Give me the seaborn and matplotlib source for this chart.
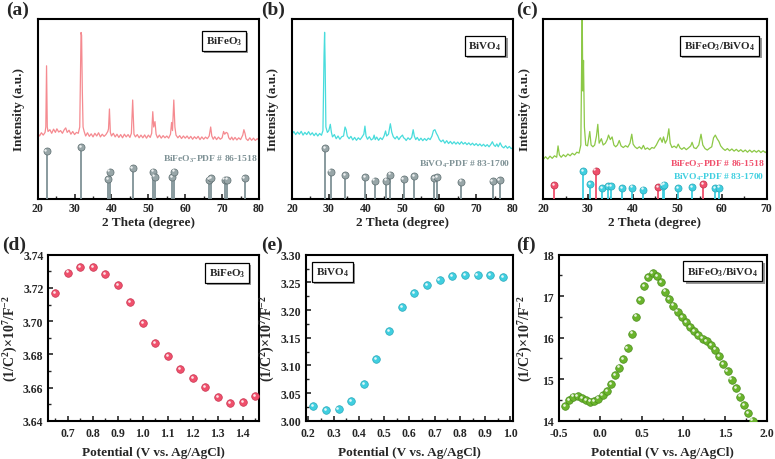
import numpy as np
import matplotlib
matplotlib.use('Agg')
import matplotlib.pyplot as plt
import matplotlib.patheffects as pe
from matplotlib import transforms
from matplotlib.ticker import AutoMinorLocator, MultipleLocator, FormatStrFormatter
import seaborn as sns

# ---- XRD data (a.u.) ----
a_2theta = [20.0, 20.5, 21.0, 21.5, 22.0, 22.2, 22.4, 22.6, 22.8, 23.3, 23.8, 24.3, 24.8, 25.2, 25.7,
            26.2, 26.7, 27.2, 27.6, 28.0, 28.5, 29.0, 29.5, 30.0, 30.5, 31.0, 31.4, 31.6, 31.75, 31.9,
            32.1, 32.3, 32.6, 33.0, 33.5, 34.0, 34.5, 35.0, 35.5, 36.0, 36.5, 37.0, 37.5, 38.0, 38.5,
            39.0, 39.2, 39.45, 39.7, 40.0, 40.5, 41.0, 41.5, 42.0, 42.5, 43.0, 43.5, 44.0, 44.5, 45.0,
            45.4, 45.75, 46.1, 46.5, 47.0, 47.5, 48.0, 48.5, 49.0, 49.5, 50.0, 50.5, 50.9, 51.2, 51.45,
            51.8, 52.1, 52.5, 53.0, 53.5, 54.0, 54.5, 55.0, 55.5, 56.0, 56.3, 56.55, 56.9, 57.2, 57.5,
            58.0, 58.5, 59.0, 59.5, 60.0, 60.5, 61.0, 61.5, 62.0, 62.5, 63.0, 63.5, 64.0, 64.5, 65.0,
            65.5, 66.0, 66.5, 66.9, 67.2, 67.6, 68.0, 68.5, 69.0, 69.5, 70.0, 70.4, 70.7, 71.1, 71.5,
            71.8, 72.2, 72.6, 73.0, 73.5, 74.0, 74.5, 75.0, 75.6, 75.9, 76.2, 76.5, 77.0, 77.5, 78.0,
            78.5, 79.0, 79.5, 80.0]
a_int = [36.5, 35.0, 36.8, 35.5, 37.0, 40.0, 74.0, 40.0, 37.5, 38.5, 36.5, 38.8, 37.0, 39.0, 37.2,
         38.0, 36.5, 38.5, 39.5, 37.0, 38.2, 36.0, 37.5, 35.8, 37.0, 36.5, 40.0, 70.0, 92.5, 91.0,
         60.0, 40.0, 37.5, 35.0, 36.8, 34.8, 36.2, 34.5, 36.5, 35.0, 36.8, 34.5, 36.0, 34.8, 35.8,
         37.5, 39.0, 50.0, 37.0, 35.0, 36.5, 34.5, 36.0, 34.2, 35.8, 34.0, 36.0, 34.5, 35.8, 34.2,
         36.5, 55.0, 36.0, 34.5, 35.8, 34.0, 35.5, 34.0, 35.6, 33.8, 35.5, 34.2, 36.5, 48.5, 40.0,
         43.0, 36.0, 34.0, 35.5, 33.8, 35.2, 34.0, 35.0, 33.8, 36.0, 42.5, 38.0, 55.0, 40.0, 35.5,
         34.0, 35.2, 33.6, 35.0, 33.8, 35.0, 33.5, 34.8, 33.2, 34.6, 33.5, 34.8, 33.0, 34.5, 33.2,
         34.4, 33.5, 35.0, 40.0, 35.0, 33.2, 34.6, 33.0, 34.4, 33.2, 34.0, 37.5, 36.0, 37.0, 36.5,
         34.0, 33.0, 34.4, 32.8, 34.2, 32.8, 34.0, 33.0, 35.5, 38.5, 36.5, 33.5, 32.5, 34.0, 32.6,
         33.8, 32.5, 33.5, 32.8]

b_2theta = [20.0, 20.5, 21.0, 21.5, 22.0, 22.5, 23.0, 23.5, 24.0, 24.5, 25.0, 25.5, 26.0, 26.5, 27.0,
            27.5, 28.0, 28.4, 28.7, 28.85, 29.0, 29.2, 29.6, 30.0, 30.4, 30.7, 31.0, 31.5, 32.0, 32.5,
            33.0, 33.5, 34.0, 34.4, 34.7, 35.0, 35.5, 36.0, 36.5, 37.0, 37.5, 38.0, 38.5, 39.0, 39.5,
            39.8, 40.1, 40.5, 41.0, 41.5, 42.0, 42.3, 42.6, 43.0, 43.5, 44.0, 44.5, 45.0, 45.4, 45.7,
            46.2, 46.7, 47.1, 47.5, 48.0, 48.5, 49.0, 49.5, 50.0, 50.3, 50.6, 51.0, 51.5, 52.0, 52.5,
            52.9, 53.2, 53.6, 54.0, 54.5, 55.0, 55.5, 56.0, 56.5, 57.0, 57.5, 58.0, 58.4, 58.8, 59.2,
            59.6, 60.0, 60.5, 61.0, 61.5, 62.0, 62.5, 63.0, 63.5, 64.0, 64.5, 65.0, 65.5, 66.0, 66.5,
            67.0, 67.5, 68.0, 68.5, 69.0, 69.5, 70.0, 70.5, 71.0, 71.5, 72.0, 72.5, 73.0, 73.5, 74.0,
            74.4, 74.8, 75.2, 75.6, 76.0, 76.5, 77.0, 77.5, 78.0, 78.5, 79.0, 79.5, 80.0]
b_int = [36.0, 37.5, 35.8, 37.2, 36.0, 37.6, 35.5, 37.0, 35.8, 37.4, 35.6, 36.8, 35.2, 36.6, 35.0,
         36.4, 35.4, 38.0, 80.0, 92.6, 75.0, 40.0, 37.0, 38.0, 41.5, 37.0, 34.5, 35.8, 33.5, 35.0,
         33.2, 34.6, 35.0, 40.0, 38.5, 35.0, 33.5, 34.8, 32.8, 34.2, 32.6, 34.0, 33.0, 34.4, 36.0,
         40.5, 35.0, 33.2, 34.6, 32.8, 33.5, 35.5, 33.0, 34.4, 32.6, 34.0, 33.0, 35.0, 37.8, 35.0,
         36.0, 41.8, 37.0, 34.6, 33.4, 34.8, 33.0, 34.5, 35.5, 34.0, 33.6, 32.5, 34.0, 33.0, 34.2,
         38.5, 35.0, 33.0, 34.2, 32.5, 33.8, 32.4, 33.6, 32.5, 33.8, 33.0, 35.0, 38.0, 38.5, 36.5,
         35.0, 33.0, 31.8, 32.8, 31.0, 32.4, 30.8, 32.0, 30.6, 31.8, 30.5, 31.6, 30.4, 31.8, 30.5,
         31.4, 30.2, 31.2, 30.0, 31.0, 29.8, 30.8, 29.6, 30.6, 29.4, 30.4, 29.2, 30.2, 29.0, 30.4,
         31.8, 30.0, 29.2, 30.6, 29.0, 31.2, 29.2, 28.4, 29.6, 28.2, 29.2, 28.0, 28.6]

c_2theta = [20.0, 20.5, 21.0, 21.5, 22.0, 22.5, 23.0, 23.3, 23.6, 24.0, 24.5, 25.0, 25.5, 26.0, 26.5,
            27.0, 27.5, 28.0, 28.4, 28.6, 28.7, 28.85, 29.0, 29.2, 29.5, 29.9, 30.4, 30.7, 31.1, 31.5,
            31.9, 32.2, 32.5, 33.0, 33.4, 33.9, 34.3, 34.6, 35.0, 35.4, 35.8, 36.2, 36.6, 37.0, 37.4,
            37.9, 38.4, 38.9, 39.4, 39.8, 40.1, 40.5, 41.0, 41.5, 42.0, 42.4, 42.8, 43.3, 43.8, 44.3,
            44.8, 45.3, 45.8, 46.2, 46.6, 46.9, 47.3, 47.7, 48.1, 48.4, 48.8, 49.3, 49.8, 50.2, 50.6,
            51.0, 51.5, 52.0, 52.5, 53.0, 53.3, 53.7, 54.2, 54.8, 55.3, 55.7, 56.2, 56.7, 57.2, 57.7,
            58.1, 58.5, 58.9, 59.3, 59.7, 60.2, 60.7, 61.2, 61.7, 62.2, 62.7, 63.2, 63.7, 64.2, 64.7,
            65.2, 65.7, 66.2, 66.7, 67.2, 67.7, 68.2, 68.7, 69.2, 69.7, 70.0]
c_int = [22.0, 23.5, 22.2, 23.8, 22.6, 24.0, 23.2, 29.5, 24.5, 23.2, 24.6, 23.5, 25.0, 24.0, 25.4,
         24.5, 26.0, 25.5, 30.0, 80.0, 105.0, 60.0, 77.0, 40.0, 30.0, 29.5, 37.5, 30.0, 29.0, 30.0,
         35.0, 41.5, 31.0, 33.5, 30.0, 31.0, 33.0, 35.5, 33.0, 34.5, 30.0, 29.0, 30.0, 32.5, 29.5,
         28.6, 29.6, 28.8, 31.0, 36.0, 30.5, 29.0, 28.0, 29.0, 27.8, 29.8, 27.6, 28.4, 27.4, 28.6,
         28.2, 30.0, 32.5, 34.0, 31.5, 34.5, 31.0, 33.0, 39.0, 31.0, 28.6, 29.4, 28.4, 30.5, 28.4,
         27.6, 28.6, 27.4, 28.4, 29.5, 31.5, 28.5, 28.0, 30.0, 36.0, 30.0, 28.0, 27.2, 28.2, 29.0,
         34.0, 35.5, 33.5, 32.0, 29.5, 28.0, 27.0, 28.0, 26.8, 27.8, 26.6, 27.6, 26.4, 27.4, 26.2,
         27.2, 26.0, 27.2, 26.0, 27.0, 26.0, 27.0, 25.8, 26.8, 25.8, 26.6]

# reference patterns (PDF cards)
bfo_pos = [22.4, 31.75, 39.0, 39.5, 45.75, 51.3, 51.7, 56.4, 57.0, 66.4, 67.0, 70.7, 71.4, 76.1]
bfo_h = [26.5, 28.7, 11.1, 15.2, 17.2, 15.2, 12.4, 12.0, 15.2, 10.7, 11.5, 10.7, 10.7, 11.5]
bvo_pos = [28.9, 30.5, 34.5, 39.8, 42.4, 45.5, 46.7, 50.3, 53.2, 58.5, 59.3, 66.0, 74.5, 76.4]
bvo_h = [28.3, 15.2, 13.3, 12.0, 10.2, 10.2, 13.5, 11.1, 12.6, 11.5, 12.0, 9.6, 10.0, 10.4]
c_bfo_pos = [22.4, 31.7, 45.7, 55.8]
c_bfo_h = [7.8, 15.7, 6.5, 8.3]
c_bvo_pos = [28.9, 30.4, 33.1, 34.5, 35.1, 37.6, 39.8, 42.4, 46.7, 47.1, 50.2, 53.3, 58.5, 59.4]
c_bvo_h = [15.4, 8.3, 6.1, 7.0, 7.0, 6.1, 6.3, 5.2, 7.4, 8.0, 5.9, 6.8, 6.1, 6.3]

# ---- Mott-Schottky data ----
d_pot = [0.65, 0.70, 0.75, 0.80, 0.85, 0.90, 0.95, 1.00, 1.05, 1.10, 1.15, 1.20, 1.25, 1.30, 1.35, 1.40, 1.45]
d_val = [3.7169, 3.7292, 3.7324, 3.7324, 3.7284, 3.7215, 3.7115, 3.6990, 3.6868, 3.6788, 3.6710,
         3.6655, 3.6601, 3.6541, 3.6505, 3.6513, 3.6549]
e_pot = [0.22, 0.27, 0.32, 0.37, 0.42, 0.47, 0.52, 0.57, 0.62, 0.67, 0.72, 0.77, 0.82, 0.87, 0.92, 0.97]
e_val = [3.0259, 3.0193, 3.0205, 3.0349, 3.0657, 3.1114, 3.1620, 3.2048, 3.2307, 3.2452, 3.2542,
         3.2608, 3.2633, 3.2633, 3.2627, 3.2596]
f_pot = [-0.42, -0.37, -0.32, -0.27, -0.22, -0.17, -0.12, -0.07, -0.02, 0.03, 0.08, 0.13, 0.18, 0.23,
         0.28, 0.33, 0.38, 0.43, 0.48, 0.53, 0.58, 0.63, 0.68, 0.73, 0.78, 0.83, 0.88, 0.93, 0.98, 1.03,
         1.08, 1.13, 1.18, 1.23, 1.28, 1.33, 1.38, 1.43, 1.48, 1.53, 1.58, 1.63, 1.68, 1.73, 1.78, 1.83]
f_val = [14.35, 14.49, 14.58, 14.59, 14.54, 14.49, 14.46, 14.47, 14.53, 14.61, 14.72, 14.88, 15.09,
         15.28, 15.48, 15.74, 16.10, 16.51, 16.91, 17.24, 17.46, 17.55, 17.48, 17.34, 17.11, 16.93,
         16.77, 16.63, 16.50, 16.37, 16.26, 16.16, 16.07, 15.98, 15.91, 15.83, 15.71, 15.56, 15.37,
         15.19, 14.99, 14.78, 14.58, 14.37, 14.18, 14.00]

# ---- style ----
sns.set_theme(style='white')
plt.rcParams['font.family'] = ['Liberation Serif', 'DejaVu Serif']
plt.rcParams['font.weight'] = 'bold'
plt.rcParams['axes.labelweight'] = 'bold'
plt.rcParams['mathtext.fontset'] = 'custom'
for k in ('rm', 'it', 'bf', 'sf'):
    plt.rcParams['mathtext.' + k] = 'Liberation Serif:bold'

W, H = 775, 460
fig = plt.figure(figsize=(W / 100, H / 100), dpi=100)


def add_ax(l, t, r, b):
    return fig.add_axes([l / W, 1 - b / H, (r - l) / W, (b - t) / H])


def frame(ax, left_ticks, xpad=2.5):
    for s in ax.spines.values():
        s.set_linewidth(1.5)
        s.set_color('black')
    ax.xaxis.set_minor_locator(AutoMinorLocator(2))
    ax.tick_params(axis='x', which='major', direction='in', length=3.5, width=1.2, pad=xpad,
                   labelsize=8.5, bottom=True, top=False)
    ax.tick_params(axis='x', which='minor', direction='in', length=2, width=1, bottom=True, top=False)
    if left_ticks:
        ax.yaxis.set_minor_locator(AutoMinorLocator(2))
        ax.tick_params(axis='y', which='major', direction='in', length=3.5, width=1.2, pad=3.5,
                       labelsize=8.5, left=True, right=False)
        ax.tick_params(axis='y', which='minor', direction='in', length=2, width=1, left=True, right=False)
    else:
        ax.set_yticks([])
    for lab in ax.get_xticklabels() + ax.get_yticklabels():
        lab.set_fontweight('bold')


def tag(ax, x, y, s):
    t = ax.text(x, y, s, transform=ax.transAxes, ha='center', va='center', fontsize=8,
                fontweight='bold', zorder=6,
                bbox=dict(boxstyle='square,pad=0.35', fc='white', ec='black', lw=0.9))
    t.get_bbox_patch().set_path_effects([pe.SimplePatchShadow(offset=(1.6, -1.6), shadow_rgbFace='0.6',
                                                              alpha=1), pe.Normal()])


def spheres(ax, x, y, color, edge, s):
    sns.scatterplot(x=x, y=y, ax=ax, s=s, color=color, edgecolor=edge, linewidth=0.5,
                    legend=False, zorder=4, clip_on=False)
    shine = transforms.offset_copy(ax.transData, fig=fig, x=-0.9, y=0.9, units='points')
    sns.scatterplot(x=x, y=y, ax=ax, s=s * 0.12, color='white', linewidth=0, alpha=0.85,
                    legend=False, zorder=5, transform=shine, clip_on=False)


def sticks(ax, pos, h, color, ball, edge):
    ax.vlines(pos, 0, h, color=color, lw=1.3, zorder=3)
    spheres(ax, pos, h, ball, edge, 26)


def xrd_panel(ax, x, y, color, xmax):
    sns.lineplot(x=x, y=y, ax=ax, color=color, lw=0.9, sort=False, estimator=None, zorder=2)
    ax.set_xlim(20, xmax)
    ax.set_ylim(0, 100)
    ax.xaxis.set_major_locator(MultipleLocator(10))
    ax.set_xlabel('2 Theta (degree)', fontsize=9.5, fontweight='bold')
    ax.set_ylabel('Intensity (a.u.)', fontsize=9.5, fontweight='bold')
    frame(ax, False)


GRAY, GRAY_BALL, GRAY_EDGE = '#7f9296', '#98a6a8', '#5d6d70'
RED, CYAN, GREEN = '#f0506c', '#40cfe0', '#6ab42c'

# (a)
ax = add_ax(37.7, 20, 259, 200)
xrd_panel(ax, a_2theta, a_int, '#f58a90', 80)
sticks(ax, bfo_pos, bfo_h, GRAY, GRAY_BALL, GRAY_EDGE)
ax.text(0.993, 0.228, 'BiFeO$_3$-PDF # 86-1518', transform=ax.transAxes, ha='right', va='center',
        fontsize=6.8, color='#7f9296', fontweight='bold')
tag(ax, 0.842, 0.878, 'BiFeO$_3$')
ax.xaxis.set_label_coords(0.5, -0.094)
ax.yaxis.set_label_coords(-0.057, 0.5)

# (b)
ax = add_ax(292, 20, 513, 200)
xrd_panel(ax, b_2theta, b_int, '#48dcdc', 80)
sticks(ax, bvo_pos, bvo_h, GRAY, GRAY_BALL, GRAY_EDGE)
ax.text(0.986, 0.2, 'BiVO$_4$-PDF # 83-1700', transform=ax.transAxes, ha='right', va='center',
        fontsize=6.8, color='#7f9296', fontweight='bold')
tag(ax, 0.873, 0.85, 'BiVO$_4$')
ax.xaxis.set_label_coords(0.5, -0.094)
ax.yaxis.set_label_coords(-0.057, 0.5)

# (c)
ax = add_ax(543.3, 20, 766.7, 200)
xrd_panel(ax, c_2theta, c_int, '#8cc846', 70)
sticks(ax, c_bfo_pos, c_bfo_h, RED, RED, '#c03048')
sticks(ax, c_bvo_pos, c_bvo_h, CYAN, CYAN, '#2aa8b8')
ax.text(0.99, 0.197, 'BiFeO$_3$-PDF # 86-1518', transform=ax.transAxes, ha='right', va='center',
        fontsize=6.8, color=RED, fontweight='bold')
ax.text(0.99, 0.125, 'BiVO$_4$-PDF # 83-1700', transform=ax.transAxes, ha='right', va='center',
        fontsize=6.8, color=CYAN, fontweight='bold')
tag(ax, 0.79, 0.85, 'BiFeO$_3$/BiVO$_4$')
ax.xaxis.set_label_coords(0.5, -0.094)
ax.yaxis.set_label_coords(-0.057, 0.5)

ms_ylabel = '(1/C$^2$)×10$^7$/F$^{-2}$'


def ms_panel(ax, x, y, color, edge, xlim, ylim, ystep, yfmt, xstep, xfmt, lab_x):
    spheres(ax, x, y, color, edge, 30)
    for c in ax.collections:
        c.set_clip_on(True)
    ax.set_xlim(*xlim)
    ax.set_ylim(*ylim)
    ax.xaxis.set_major_locator(MultipleLocator(xstep))
    ax.xaxis.set_major_formatter(FormatStrFormatter(xfmt))
    ax.yaxis.set_major_locator(MultipleLocator(ystep))
    ax.yaxis.set_major_formatter(FormatStrFormatter(yfmt))
    ax.set_xlabel('Potential (V vs. Ag/AgCl)', fontsize=9.5, fontweight='bold')
    ax.set_ylabel(ms_ylabel, fontsize=10, fontweight='bold')
    frame(ax, True, xpad=4.6)
    ax.xaxis.set_label_coords(0.5, -0.15)
    ax.yaxis.set_label_coords(lab_x, 0.5)


# (d)
ax = add_ax(48.3, 255.7, 259, 421.7)
ms_panel(ax, d_pot, d_val, RED, '#c83450', (0.622, 1.465), (3.64, 3.74), 0.02, '%.2f', 0.1, '%.1f', -0.135)
tag(ax, 0.848, 0.89, 'BiFeO$_3$')

# (e)
ax = add_ax(305.7, 255.7, 513, 421.7)
ms_panel(ax, e_pot, e_val, CYAN, '#28a8ba', (0.19, 1.01), (3.0, 3.3), 0.05, '%.2f', 0.1, '%.1f', -0.138)
tag(ax, 0.13, 0.895, 'BiVO$_4$')

# (f)
ax = add_ax(558.5, 255.7, 766.7, 421.7)
ms_panel(ax, f_pot, f_val, GREEN, '#4a8c1c', (-0.5, 2.0), (14, 18), 1, '%d', 0.5, '%.1f', -0.112)
tag(ax, 0.79, 0.90, 'BiFeO$_3$/BiVO$_4$')

# panel letters
for lab, x, y in [('(a)', 6, 2), ('(b)', 261, 2), ('(c)', 516, 2),
                  ('(d)', 2, 237), ('(e)', 261, 237), ('(f)', 516, 237)]:
    fig.text(x / W, 1 - y / H, lab, ha='left', va='top', fontsize=14, fontweight='bold')

fig.savefig('out.png', dpi=100)
